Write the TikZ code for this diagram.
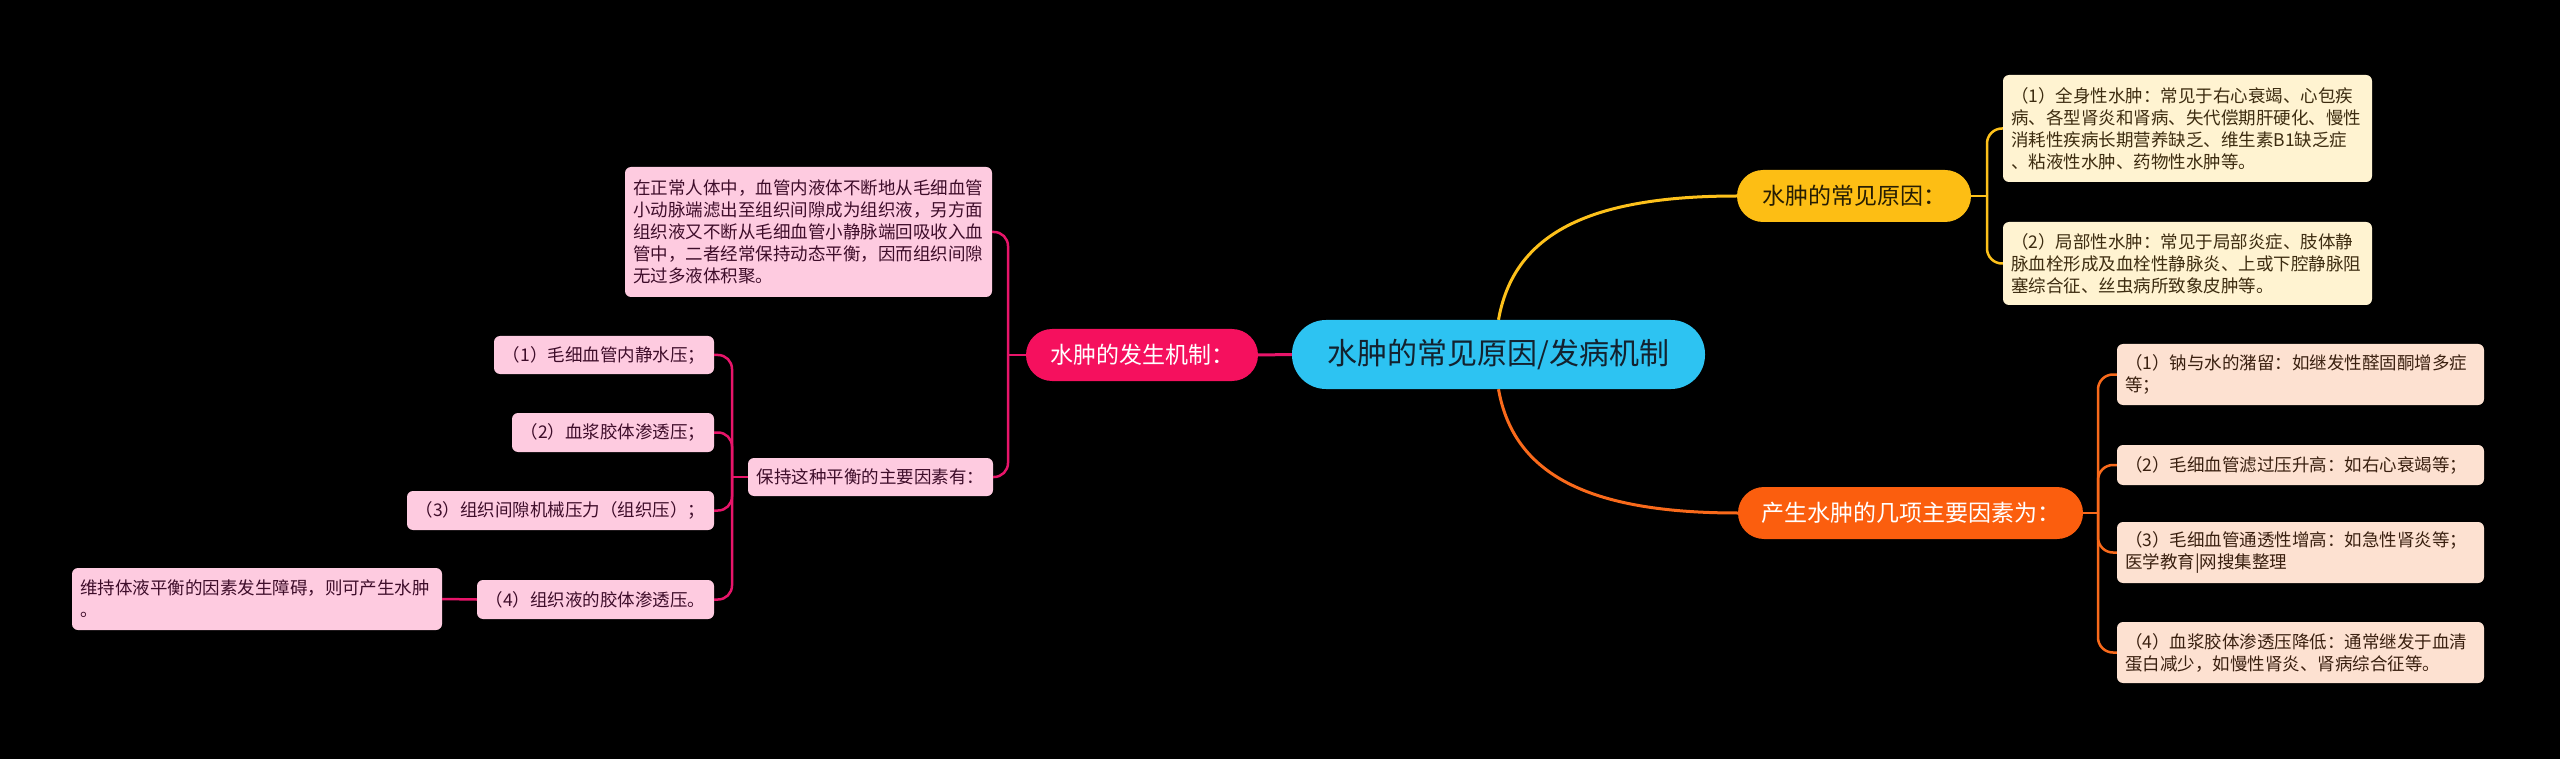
\documentclass[tikz,border=0pt]{standalone}
\usepackage{fontspec}
\setmainfont{Noto Sans CJK SC}
\definecolor{cfill}{HTML}{2DC3F2}
\definecolor{ctext}{HTML}{13222F}
\definecolor{yfill}{HTML}{FDBE14}
\definecolor{yline}{HTML}{FDC11B}
\definecolor{yleaf}{HTML}{FFF3D1}
\definecolor{ytext}{HTML}{3D2C10}
\definecolor{ofill}{HTML}{FB5E0E}
\definecolor{oline}{HTML}{F96A1B}
\definecolor{oleaf}{HTML}{FDE1D1}
\definecolor{otext}{HTML}{3A2010}
\definecolor{pfill}{HTML}{F5105E}
\definecolor{pline}{HTML}{E8156A}
\definecolor{pleaf}{HTML}{FECBE0}
\definecolor{ptext}{HTML}{3E0D2A}
\begin{document}
\begin{tikzpicture}[x=1pt,y=-1pt,
  pill/.style={rectangle, rounded corners=26, inner sep=0pt, minimum height=52, font=\fontsize{23}{28}\selectfont},
  leafbox/.style={rectangle, rounded corners=6, inner sep=0pt, font=\fontsize{17.5}{22}\selectfont},
  yleafbox/.style={leafbox, fill=yleaf, text=ytext, align=left},
  oleafbox/.style={leafbox, fill=oleaf, text=otext, align=left},
  pleafbox/.style={leafbox, fill=pleaf, text=ptext},
  ylink/.style={draw=yline, line width=2.5},
  olink/.style={draw=oline, line width=2.5},
  plink/.style={draw=pline, line width=2.5}]
\fill[black] (0,0) rectangle (2560,759);
\useasboundingbox (0,0) rectangle (2560,759);

% central
\node[rectangle, rounded corners=34, fill=cfill, text=ctext, minimum width=413, minimum height=69, inner sep=0pt, font=\fontsize{30}{36}\selectfont] (c) at (1498.5,354.5) {水肿的常见原因/发病机制};

% branches
\node[pill, fill=yfill, text=black!85!yfill, minimum width=234] (yb) at (1854,196) {水肿的常见原因：};
\node[pill, fill=ofill, text=white, minimum width=345] (ob) at (1910.5,513) {产生水肿的几项主要因素为：};
\node[pill, fill=pfill, text=white, minimum width=232] (pb) at (1142,355) {水肿的发生机制：};

% yellow leaves
\node[yleafbox, minimum width=369, minimum height=107, text width=353] (y1) at (2187.5,128.5) {（1）全身性水肿：常见于右心衰竭、心包疾\\病、各型肾炎和肾病、失代偿期肝硬化、慢性\\消耗性疾病长期营养缺乏、维生素B1缺乏症\\、粘液性水肿、药物性水肿等。};
\node[yleafbox, minimum width=369, minimum height=83, text width=353] (y2) at (2187.5,263.5) {（2）局部性水肿：常见于局部炎症、肢体静\\脉血栓形成及血栓性静脉炎、上或下腔静脉阻\\塞综合征、丝虫病所致象皮肿等。};

% orange leaves
\node[oleafbox, minimum width=367, minimum height=61, text width=351] (o1) at (2300.5,374.5) {（1）钠与水的潴留：如继发性醛固酮增多症\\等；};
\node[oleafbox, minimum width=367, minimum height=40, text width=351] (o2) at (2300.5,465) {（2）毛细血管滤过压升高：如右心衰竭等；};
\node[oleafbox, minimum width=367, minimum height=61, text width=351] (o3) at (2300.5,552.5) {（3）毛细血管通透性增高：如急性肾炎等；\\医学教育|网搜集整理};
\node[oleafbox, minimum width=367, minimum height=61, text width=351] (o4) at (2300.5,652.5) {（4）血浆胶体渗透压降低：通常继发于血清\\蛋白减少，如慢性肾炎、肾病综合征等。};

% pink side
\node[pleafbox, align=left, minimum width=367, minimum height=130, text width=351] (pbig) at (808.5,232) {在正常人体中，血管内液体不断地从毛细血管\\小动脉端滤出至组织间隙成为组织液，另方面\\组织液又不断从毛细血管小静脉端回吸收入血\\管中，二者经常保持动态平衡，因而组织间隙\\无过多液体积聚。};
\node[pleafbox, minimum width=245, minimum height=38] (pkeep) at (870.5,477) {保持这种平衡的主要因素有：};
\node[pleafbox, minimum width=220, minimum height=38] (p1) at (604,355) {（1）毛细血管内静水压；};
\node[pleafbox, minimum width=202, minimum height=39] (p2) at (613,432.5) {（2）血浆胶体渗透压；};
\node[pleafbox, minimum width=307, minimum height=39] (p3) at (560.5,510.5) {（3）组织间隙机械压力（组织压）；};
\node[pleafbox, minimum width=237, minimum height=39] (p4) at (595.5,599.5) {（4）组织液的胶体渗透压。};
\node[pleafbox, align=left, minimum width=370, minimum height=62, text width=354] (pw) at (257,599) {维持体液平衡的因素发生障碍，则可产生水肿\\。};

% junction points
\coordinate (yj) at (1987,196);
\coordinate (oj) at (2098,513);
\coordinate (pj) at (1008,355);
\coordinate (pk) at (732,477);

% main connectors
\draw[ylink, line width=3] (c.north) .. controls +(15,-85) and +(-150,0) .. (yb.west);
\draw[olink, line width=3] (c.south) .. controls +(15,85) and +(-150,0) .. (ob.west);
\draw[plink, line width=3] (c.west) -- (pb.east);

% yellow
\draw[ylink] (yb.east) -- (yj);
\draw[ylink, rounded corners=15] (yj) |- (y1.west);
\draw[ylink, rounded corners=15] (yj) |- (y2.west);

% orange
\draw[olink] (ob.east) -- (oj);
\draw[olink, rounded corners=15] (oj) |- (o1.west);
\draw[olink, rounded corners=15] (oj) |- (o2.west);
\draw[olink, rounded corners=15] (oj) |- (o3.west);
\draw[olink, rounded corners=15] (oj) |- (o4.west);

% pink
\draw[plink] (pb.west) -- (pj);
\draw[plink, rounded corners=14] (pj) |- (pbig.east);
\draw[plink, rounded corners=14] (pj) |- (pkeep.east);
\draw[plink] (pkeep.west) -- (pk);
\draw[plink, rounded corners=14] (pk) |- (p1.east);
\draw[plink, rounded corners=14] (pk) |- (p2.east);
\draw[plink, rounded corners=14] (pk) |- (p3.east);
\draw[plink, rounded corners=14] (pk) |- (p4.east);
\draw[plink] (p4.west) -- (pw.east);
\end{tikzpicture}
\end{document}
